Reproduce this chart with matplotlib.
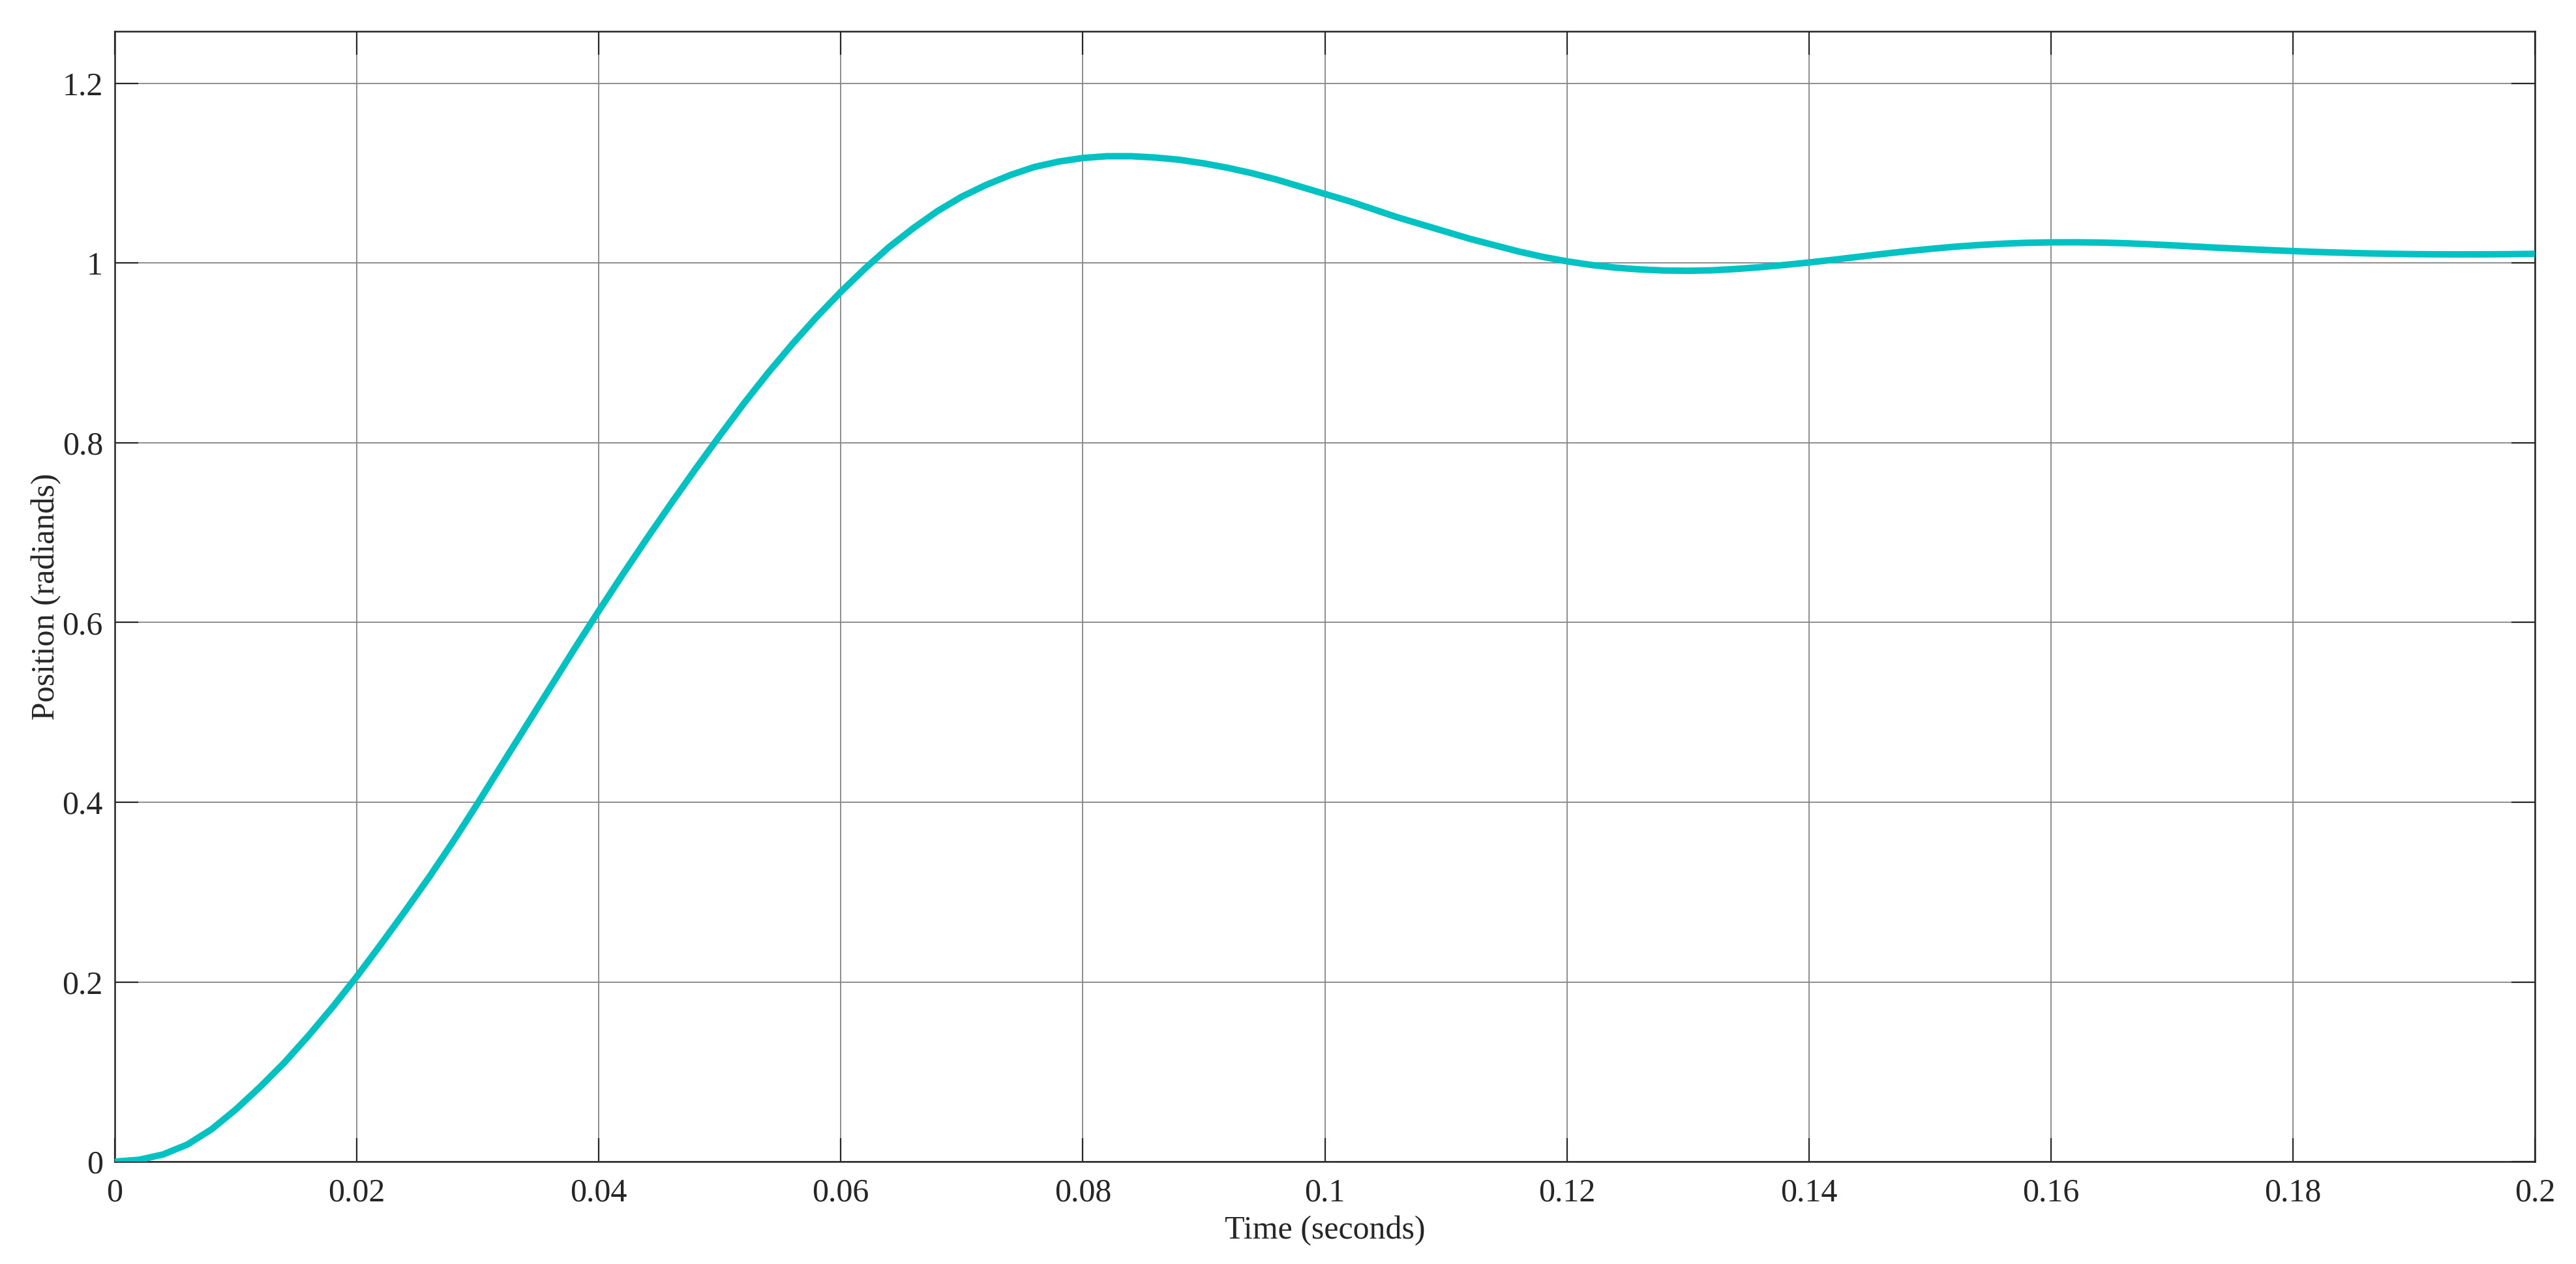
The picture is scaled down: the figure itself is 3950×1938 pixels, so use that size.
import matplotlib
matplotlib.use('Agg')
import matplotlib.pyplot as plt

# step response
time_s = [0.000, 0.002, 0.004, 0.006, 0.008, 0.010, 0.012, 0.014, 0.016, 0.018,
          0.020, 0.022, 0.024, 0.026, 0.028, 0.030, 0.032, 0.034, 0.036, 0.038,
          0.040, 0.042, 0.044, 0.046, 0.048, 0.050, 0.052, 0.054, 0.056, 0.058,
          0.060, 0.062, 0.064, 0.066, 0.068, 0.070, 0.072, 0.074, 0.076, 0.078,
          0.080, 0.082, 0.084, 0.086, 0.088, 0.090, 0.092, 0.094, 0.096, 0.098,
          0.100, 0.102, 0.104, 0.106, 0.108, 0.110, 0.112, 0.114, 0.116, 0.118,
          0.120, 0.122, 0.124, 0.126, 0.128, 0.130, 0.132, 0.134, 0.136, 0.138,
          0.140, 0.142, 0.144, 0.146, 0.148, 0.150, 0.152, 0.154, 0.156, 0.158,
          0.160, 0.162, 0.164, 0.166, 0.168, 0.170, 0.172, 0.174, 0.176, 0.178,
          0.180, 0.182, 0.184, 0.186, 0.188, 0.190, 0.192, 0.194, 0.196, 0.198,
          0.200]
position = [0.000, 0.002, 0.008, 0.019, 0.036, 0.058, 0.083, 0.110, 0.140, 0.172,
            0.206, 0.242, 0.279, 0.317, 0.357, 0.399, 0.442, 0.485, 0.528, 0.571,
            0.613, 0.654, 0.694, 0.733, 0.771, 0.808, 0.844, 0.878, 0.910, 0.940,
            0.968, 0.994, 1.018, 1.039, 1.058, 1.074, 1.087, 1.098, 1.107, 1.113,
            1.117, 1.119, 1.119, 1.1175, 1.115, 1.111, 1.106, 1.100, 1.093, 1.085,
            1.077, 1.069, 1.060, 1.051, 1.043, 1.035, 1.027, 1.020, 1.013, 1.007,
            1.002, 0.998, 0.995, 0.993, 0.9918, 0.9915, 0.9920, 0.9935, 0.9955, 0.998,
            1.0007, 1.0037, 1.0069, 1.0101, 1.0131, 1.0158, 1.0182, 1.0201, 1.0216, 1.0226,
            1.0231, 1.0232, 1.0229, 1.0222, 1.0211, 1.0198, 1.0184, 1.0170, 1.0157, 1.0145,
            1.0134, 1.0124, 1.0116, 1.0109, 1.0104, 1.0100, 1.0098, 1.0097, 1.0098, 1.0100,
            1.0103]

x_ticks = [0, 0.02, 0.04, 0.06, 0.08, 0.1, 0.12, 0.14, 0.16, 0.18, 0.2]
x_labels = ['0', '0.02', '0.04', '0.06', '0.08', '0.1', '0.12', '0.14', '0.16', '0.18', '0.2']
y_ticks = [0, 0.2, 0.4, 0.6, 0.8, 1.0, 1.2]
y_labels = ['0', '0.2', '0.4', '0.6', '0.8', '1', '1.2']

plt.rcParams['font.family'] = ['Liberation Serif', 'DejaVu Serif']

fig = plt.figure(figsize=(39.5, 19.38), dpi=100)
ax = fig.add_axes([0.04456, 0.0810, 0.98405 - 0.04456, 0.97523 - 0.0810])

ax.plot(time_s, position, color='#00c2c2', linewidth=7.2,
        solid_joinstyle='round', solid_capstyle='butt', zorder=3)

ax.set_xlim(0, 0.2)
ax.set_ylim(0, 1.258)
ax.set_xticks(x_ticks)
ax.set_xticklabels(x_labels)
ax.set_yticks(y_ticks)
ax.set_yticklabels(y_labels)

ax.grid(True, color='#858585', linewidth=1.3)
ax.set_axisbelow(True)

for s in ax.spines.values():
    s.set_color('#262626')
    s.set_linewidth(1.8)

ax.tick_params(axis='both', direction='in', length=26, width=1.6, color='#262626',
               labelsize=36, labelcolor='#262626', top=True, right=True)
ax.tick_params(axis='x', pad=18)
ax.tick_params(axis='y', pad=13)

ax.set_xlabel('Time (seconds)', fontsize=36, color='#262626', labelpad=8)
ax.set_ylabel('Position (radiands)', fontsize=36, color='#262626', labelpad=1)

fig.savefig('out.png', dpi=100, facecolor='white')
